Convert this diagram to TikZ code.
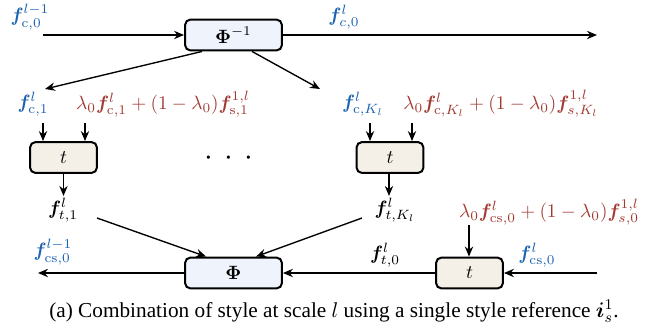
\RequirePackage{fix-cm}
\documentclass[tikz,border=0pt]{standalone}
\usepackage{amsmath,bm}
\usepackage{fontspec}
\newfontfamily\capfont{Liberation Serif}
\usetikzlibrary{arrows.meta,calc}
\definecolor{fblue}{RGB}{28,98,176}
\definecolor{fred}{RGB}{162,58,50}
\definecolor{phifill}{RGB}{239,244,252}
\definecolor{tfill}{RGB}{244,240,232}
\newcommand{\fb}{\boldsymbol{f}}
\begin{document}
\begin{tikzpicture}[x=0.55pt,y=-0.55pt,
  font=\fontsize{10.6pt}{13pt}\selectfont,
  box/.style={draw=black,line width=1.1pt,rounded corners=3pt,inner sep=0pt,minimum height=17pt},
  phibox/.style={box,fill=phifill,minimum width=53.3pt},
  tbox/.style={box,fill=tfill,minimum width=36.8pt},
  arr/.style={-{Stealth[length=5.5pt,width=4.6pt]},line width=0.75pt},
  lbl/.style={inner sep=0pt},
  blu/.style={lbl,text=fblue},
  rd/.style={lbl,text=fred}]
\useasboundingbox (0,0) rectangle (660,333);

% processing blocks
\node[phibox] (phiinv) at (233.5,35) {$\boldsymbol{\Phi}^{-1}$};
\node[phibox] (phi) at (233.5,273) {$\boldsymbol{\Phi}$};
\node[tbox] (t1) at (63.5,157.5) {$t$};
\node[tbox] (tk) at (390,157.5) {$t$};
\node[tbox] (t0) at (469.5,273) {$t$};

% feature labels
\node[blu] (fcm) at (30,17) {$\fb^{l-1}_{\mathrm{c},0}$};
\node[blu] (fc0) at (344,17) {$\fb^{l}_{c,0}$};
\node[blu] (fc1) at (33,104) {$\fb^{l}_{\mathrm{c},1}$};
\node[rd] (mix1) at (163,104) {$\lambda_0\fb^{l}_{\mathrm{c},1}+(1-\lambda_0)\fb^{1,l}_{\mathrm{s},1}$};
\node[blu] (fck) at (363,104) {$\fb^{l}_{\mathrm{c},K_l}$};
\node[rd] (mixk) at (501,104) {$\lambda_0\fb^{l}_{\mathrm{c},K_l}+(1-\lambda_0)\fb^{1,l}_{s,K_l}$};
\node[lbl] (ft1) at (63,210) {$\fb^{l}_{t,1}$};
\node[lbl] (ftk) at (395,210) {$\fb^{l}_{t,K_l}$};
\node[lbl] (dots) at (229,159) {\LARGE$\cdotp$\hspace{6.4pt}$\cdotp$\hspace{6.4pt}$\cdotp$};
\node[rd] (mix0) at (549,212) {$\lambda_0\fb^{l}_{\mathrm{cs},0}+(1-\lambda_0)\fb^{1,l}_{s,0}$};
\node[blu] (fcs0) at (537,255) {$\fb^{l}_{\mathrm{cs},0}$};
\node[lbl] (ft0) at (385,255) {$\fb^{l}_{t,0}$};
\node[blu] (fcsm) at (53,252) {$\fb^{l-1}_{\mathrm{cs},0}$};

% caption
\node[lbl,font=\fontsize{11.7pt}{14pt}\selectfont] (cap) at (334,311) {\capfont (a) Combination of style at scale $l$ using a single style reference $\boldsymbol{i}^1_s$.};

% free ends of connectors
\coordinate (inL) at (43,35);
\coordinate (outR) at (597,35);
\coordinate (d1) at (45,89);
\coordinate (dk) at (320,89);
\coordinate (a1) at (43,123);
\coordinate (b1) at (85,123);
\coordinate (ak) at (370,123);
\coordinate (bk) at (412,123);
\coordinate (e1) at (97,218);
\coordinate (ek) at (362,218);
\coordinate (outB) at (38,273);
\coordinate (inB) at (597,273);
\coordinate (m0) at (469,225);

% connectors
\draw[arr] (inL) -- (phiinv.west);
\draw[arr] (phiinv.east) -- (outR);
\draw[arr] ($(phiinv.south west)+(18,0)$) -- (d1);
\draw[arr] ($(phiinv.south west)+(68,0)$) -- (dk);
\draw[arr] (a1) -- (a1 |- t1.north);
\draw[arr] (b1) -- (b1 |- t1.north);
\draw[arr] (ak) -- (ak |- tk.north);
\draw[arr] (bk) -- (bk |- tk.north);
\draw[arr] (t1.south) -- ++(0,22);
\draw[arr] ($(tk.south)+(-1,0)$) -- ++(0,22);
\draw[arr] (e1) -- ($(phi.north west)+(22,0)$);
\draw[arr] (ek) -- ($(phi.north west)+(72,0)$);
\draw[arr] (phi.west) -- (outB);
\draw[arr] (t0.west) -- (phi.east);
\draw[arr] (inB) -- (t0.east);
\draw[arr] (m0) -- (m0 |- t0.north);
\end{tikzpicture}
\end{document}
